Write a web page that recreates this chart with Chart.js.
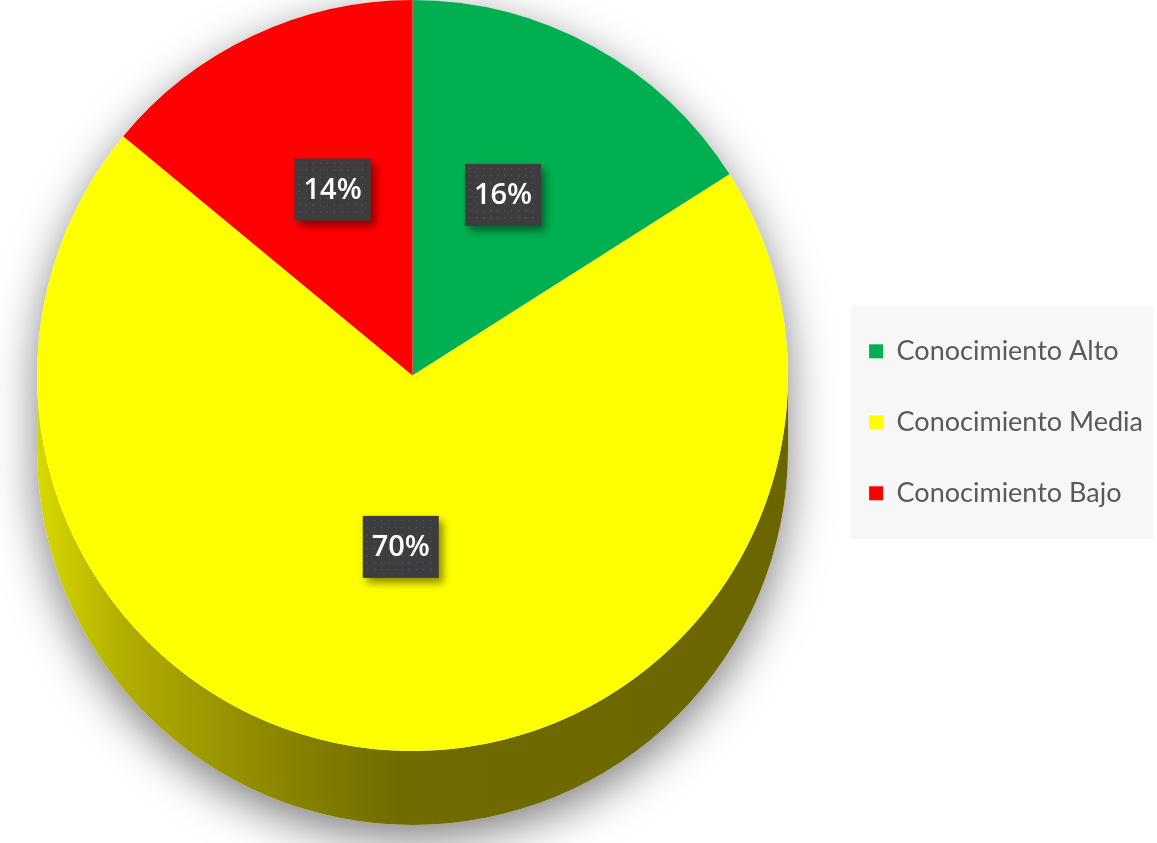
<!DOCTYPE html>
<html>
<head>
<meta charset="utf-8">
<script src="https://cdn.jsdelivr.net/npm/chart.js@4"></script>
<style>
html,body{margin:0;padding:0;background:#fff;}
#wrap{width:1157px;height:843px;position:relative;}
</style>
</head>
<body>
<div id="wrap"><canvas id="c" width="1157" height="843"></canvas></div>
<script>
const categories = ['Conocimiento Alto', 'Conocimiento Media', 'Conocimiento Bajo'];
const percentValues = [16, 70, 14];
const valueLabels = ['16%', '70%', '14%'];

const sliceColors = ['#00b050', '#ffff00', '#ff0000'];
const DEPTH = 74;

const sidePlugin = {
  id: 'side3d',
  beforeDraw(chart) {
    const lg = chart.legend;
    if (lg && lg.legendHitBoxes && lg.legendHitBoxes.length) {
      const hb = lg.legendHitBoxes;
      let l = Infinity, t = Infinity, r = -Infinity, b = -Infinity;
      hb.forEach(h => { l = Math.min(l, h.left); t = Math.min(t, h.top); r = Math.max(r, h.left + h.width); b = Math.max(b, h.top + h.height); });
      const ctx = chart.ctx;
      ctx.save();
      ctx.fillStyle = '#f7f7f7';
      ctx.fillRect(l - 18, t - 32, (r - l) + 28, (b - t) + 64);
      ctx.restore();
    }
  },
  beforeDatasetsDraw(chart) {
    const meta = chart.getDatasetMeta(0);
    const arc = meta.data[0];
    if (!arc) return;
    const cx = arc.x, cy = arc.y, r = arc.outerRadius;
    const ctx = chart.ctx;
    ctx.save();
    ctx.beginPath();
    ctx.arc(cx, cy, r, Math.PI, 0, false);
    ctx.lineTo(cx + r, cy + DEPTH);
    ctx.arc(cx, cy + DEPTH, r, 0, Math.PI, false);
    ctx.closePath();
    ctx.shadowColor = 'rgba(0,0,0,0.5)';
    ctx.shadowBlur = 45;
    ctx.shadowOffsetY = 14;
    ctx.fillStyle = '#ffffff';
    ctx.fill();
    ctx.restore();

    ctx.save();
    ctx.beginPath();
    ctx.moveTo(cx + r, cy);
    ctx.lineTo(cx + r, cy + DEPTH);
    ctx.arc(cx, cy + DEPTH, r, 0, Math.PI, false);
    ctx.lineTo(cx - r, cy);
    ctx.arc(cx, cy, r, Math.PI, 0, true);
    ctx.closePath();
    const g = ctx.createLinearGradient(cx - r, 0, cx + r, 0);
    g.addColorStop(0, '#d8d800');
    g.addColorStop(0.12, '#b0ac00');
    g.addColorStop(0.3, '#8e8a00');
    g.addColorStop(0.48, '#706c00');
    g.addColorStop(1, '#6a6500');
    ctx.fillStyle = g;
    ctx.fill();
    ctx.restore();
  },
  afterDatasetsDraw(chart) {
    const meta = chart.getDatasetMeta(0);
    const ctx = chart.ctx;
    meta.data.forEach((a, i) => {
      const mid = (a.startAngle + a.endAngle) / 2;
      const rr = a.outerRadius * 0.5;
      const x = a.x + Math.cos(mid) * rr;
      const y = a.y + Math.sin(mid) * rr - 16;
      const w = 76, h = 62;
      ctx.save();
      ctx.shadowColor = 'rgba(0,0,0,0.45)';
      ctx.shadowBlur = 8;
      ctx.shadowOffsetX = 4;
      ctx.shadowOffsetY = 5;
      ctx.fillStyle = '#3d3d40';
      ctx.fillRect(x - w / 2, y - h / 2, w, h);
      ctx.restore();
      ctx.save();
      ctx.fillStyle = 'rgba(120,120,130,0.35)';
      for (let yy = y - h / 2 + 4; yy < y + h / 2 - 2; yy += 7) {
        for (let xx = x - w / 2 + 4; xx < x + w / 2 - 2; xx += 7) {
          ctx.fillRect(xx, yy, 1.5, 1.5);
        }
      }
      ctx.restore();
      ctx.save();
      ctx.fillStyle = '#ffffff';
      ctx.font = '600 29px "Open Sans", sans-serif';
      ctx.textAlign = 'center';
      ctx.textBaseline = 'middle';
      ctx.fillText(valueLabels[i], x, y + 1);
      ctx.restore();
    });
  }
};

new Chart(document.getElementById('c'), {
  type: 'pie',
  data: {
    labels: categories,
    datasets: [{
      data: percentValues,
      backgroundColor: sliceColors,
      borderWidth: 0,
      hoverOffset: 0
    }]
  },
  options: {
    responsive: false,
    animation: false,
    devicePixelRatio: 1,
    layout: { padding: { top: 0, bottom: 92, left: 0, right: 4 } },
    plugins: {
      tooltip: { enabled: false },
      legend: {
        position: 'right',
        title: { display: true, text: ' ', padding: { top: 84, bottom: 0 }, font: { size: 8 } },
        labels: {
          boxWidth: 14,
          boxHeight: 14,
          padding: 44,
          color: '#595959',
          font: { family: 'Lato, sans-serif', size: 27 }
        }
      }
    }
  },
  plugins: [sidePlugin]
});
</script>
</body>
</html>
